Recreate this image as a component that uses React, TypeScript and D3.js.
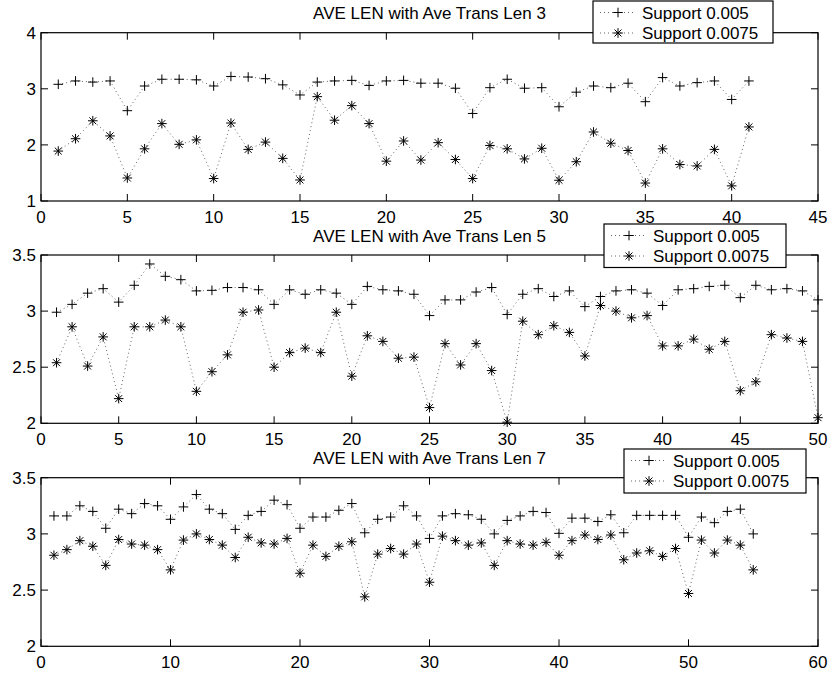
import React from 'react';
import * as d3 from 'd3';

// x positions are 1..n for each panel
const len3Support005 = [3.08, 3.14, 3.12, 3.14, 2.61, 3.05, 3.17, 3.17, 3.16, 3.05, 3.22, 3.21, 3.18, 3.07, 2.89, 3.12, 3.14, 3.15, 3.06, 3.14, 3.15,
  3.10, 3.10, 3.01, 2.56, 3.02, 3.17, 3.01, 3.02, 2.68, 2.94, 3.05, 3.02, 3.10, 2.77, 3.20, 3.05, 3.11, 3.14, 2.81, 3.14];
const len3Support0075 = [1.89, 2.11, 2.43, 2.16, 1.41, 1.93, 2.38, 2.01, 2.09, 1.40, 2.39, 1.92, 2.05, 1.76, 1.375, 2.86, 2.44, 2.70, 2.38, 1.71, 2.07,
  1.73, 2.04, 1.74, 1.40, 1.99, 1.93, 1.75, 1.94, 1.37, 1.70, 2.23, 2.03, 1.90, 1.32, 1.93, 1.65, 1.625, 1.92, 1.27, 2.32];

const len5Support005 = [2.99, 3.06, 3.16, 3.20, 3.08, 3.23, 3.42, 3.31, 3.28, 3.18, 3.185, 3.21, 3.21, 3.19, 3.06, 3.19, 3.15, 3.19, 3.16, 3.06,
  3.22, 3.19, 3.18, 3.15, 2.96, 3.10, 3.10, 3.17, 3.21, 2.97, 3.15, 3.20, 3.13, 3.18, 3.04, 3.13, 3.18, 3.19, 3.16, 3.05,
  3.19, 3.20, 3.22, 3.23, 3.12, 3.23, 3.19, 3.20, 3.18, 3.10];
const len5Support0075 = [2.54, 2.86, 2.51, 2.77, 2.22, 2.86, 2.86, 2.92, 2.86, 2.285, 2.46, 2.61, 2.99, 3.01, 2.50, 2.63, 2.67, 2.63, 2.99, 2.42,
  2.78, 2.73, 2.58, 2.59, 2.14, 2.71, 2.52, 2.71, 2.47, 2.01, 2.91, 2.79, 2.87, 2.81, 2.60, 3.05, 3.00, 2.94, 2.96, 2.69,
  2.69, 2.75, 2.66, 2.73, 2.29, 2.37, 2.79, 2.76, 2.73, 2.05];

const len7Support005 = [3.16, 3.16, 3.25, 3.20, 3.05, 3.22, 3.18, 3.27, 3.25, 3.13, 3.24, 3.35, 3.22, 3.18, 3.04, 3.165, 3.20, 3.30, 3.26, 3.05,
  3.15, 3.15, 3.21, 3.27, 3.01, 3.13, 3.15, 3.25, 3.16, 2.96, 3.16, 3.18, 3.17, 3.13, 3.00, 3.12, 3.16, 3.20, 3.19, 3.005,
  3.14, 3.14, 3.11, 3.17, 3.01, 3.165, 3.165, 3.165, 3.165, 2.97, 3.15, 3.10, 3.20, 3.22, 3.00];
const len7Support0075 = [2.81, 2.86, 2.94, 2.89, 2.72, 2.95, 2.91, 2.90, 2.86, 2.68, 2.945, 3.00, 2.95, 2.90, 2.79, 2.97, 2.92, 2.91, 2.96, 2.65,
  2.90, 2.80, 2.89, 2.93, 2.44, 2.82, 2.87, 2.82, 2.91, 2.57, 2.98, 2.94, 2.90, 2.92, 2.72, 2.94, 2.91, 2.90, 2.925, 2.81,
  2.94, 2.99, 2.95, 2.99, 2.77, 2.83, 2.85, 2.80, 2.87, 2.47, 2.945, 2.83, 2.945, 2.90, 2.68];

const legendLabels = ['Support 0.005', 'Support 0.0075'];

const panels = [
  { title: 'AVE LEN with Ave Trans Len 3', a: len3Support005, b: len3Support0075, xMax: 45, xStep: 5, yMin: 1, yMax: 4, yStep: 1,
    top: 32.7, bottom: 201, legend: { x: 593, y: 1, w: 180, h: 42 } },
  { title: 'AVE LEN with Ave Trans Len 5', a: len5Support005, b: len5Support0075, xMax: 50, xStep: 5, yMin: 2, yMax: 3.5, yStep: 0.5,
    top: 255, bottom: 423.3, legend: { x: 604, y: 224, w: 182, h: 43.5 } },
  { title: 'AVE LEN with Ave Trans Len 7', a: len7Support005, b: len7Support0075, xMax: 60, xStep: 10, yMin: 2, yMax: 3.5, yStep: 0.5,
    top: 477.7, bottom: 646.3, legend: { x: 624, y: 449, w: 182, h: 44 } },
];

const left = 41;
const right = 818;
const tickLen = 7;
const fontSize = 17;
const font = 'Liberation Sans, Arial, Helvetica, sans-serif';

const plusPath = (s: number) => `M${-s},0H${s}M0,${-s}V${s}`;
const starPath = (s: number) => {
  const d = s * 0.72;
  return `M${-s},0H${s}M0,${-s}V${s}M${-d},${-d}L${d},${d}M${-d},${d}L${d},${-d}`;
};

const Marker = ({ kind, x, y }: { kind: string; x: number; y: number }) => (
  <path d={kind === 'plus' ? plusPath(4.8) : starPath(4.8)} transform={`translate(${x},${y})`}
    stroke="#000" strokeWidth={1} fill="none" />
);

const Panel = ({ p }: { p: typeof panels[number] }) => {
  const x = d3.scaleLinear().domain([0, p.xMax]).range([left, right]);
  const y = d3.scaleLinear().domain([p.yMin, p.yMax]).range([p.bottom, p.top]);
  const xTicks = d3.range(0, p.xMax + 0.001, p.xStep);
  const yTicks = d3.range(p.yMin, p.yMax + 0.001, p.yStep);
  const line = d3.line<number>().x((_, i) => x(i + 1)).y(d => y(d));
  const lg = p.legend;
  return (
    <g fontFamily={font} fontSize={fontSize}>
      <text x={(left + right) / 2} y={p.top - 13.5} textAnchor="middle">{p.title}</text>
      {xTicks.map(t => (
        <g key={'x' + t}>
          <line x1={x(t)} x2={x(t)} y1={p.bottom} y2={p.bottom - tickLen} stroke="#000" />
          <line x1={x(t)} x2={x(t)} y1={p.top} y2={p.top + tickLen} stroke="#000" />
          <text x={x(t)} y={p.bottom + 21.5} textAnchor="middle">{t}</text>
        </g>
      ))}
      {yTicks.map(t => (
        <g key={'y' + t}>
          <line x1={left} x2={left + tickLen} y1={y(t)} y2={y(t)} stroke="#000" />
          <line x1={right} x2={right - tickLen} y1={y(t)} y2={y(t)} stroke="#000" />
          <text x={left - 5} y={y(t) + 6} textAnchor="end">{t}</text>
        </g>
      ))}
      <path d={line(p.a) || ''} fill="none" stroke="#666" strokeWidth={1} strokeDasharray="1,3" />
      <path d={line(p.b) || ''} fill="none" stroke="#666" strokeWidth={1} strokeDasharray="1,3" />
      {p.a.map((v, i) => <Marker key={'a' + i} kind="plus" x={x(i + 1)} y={y(v)} />)}
      {p.b.map((v, i) => <Marker key={'b' + i} kind="star" x={x(i + 1)} y={y(v)} />)}
      <rect x={left} y={p.top} width={right - left} height={p.bottom - p.top} fill="none" stroke="#000" strokeWidth={1.2} />
      <rect x={lg.x} y={lg.y} width={lg.w} height={lg.h} fill="#fff" stroke="#000" strokeWidth={1.2} />
      {legendLabels.map((label, i) => {
        const ry = lg.y + 11.5 + i * 20.5;
        return (
          <g key={label}>
            <line x1={lg.x + 7} x2={lg.x + 43} y1={ry} y2={ry} stroke="#666" strokeDasharray="1,3" />
            <Marker kind={i === 0 ? 'plus' : 'star'} x={lg.x + 25} y={ry} />
            <text x={lg.x + 49} y={ry + 6}>{label}</text>
          </g>
        );
      })}
    </g>
  );
};

export default function App() {
  return (
    <svg width={830} height={677} style={{ position: 'absolute', left: 0, top: 0, background: '#fff' }}>
      {panels.map(p => <Panel key={p.title} p={p} />)}
    </svg>
  );
}
